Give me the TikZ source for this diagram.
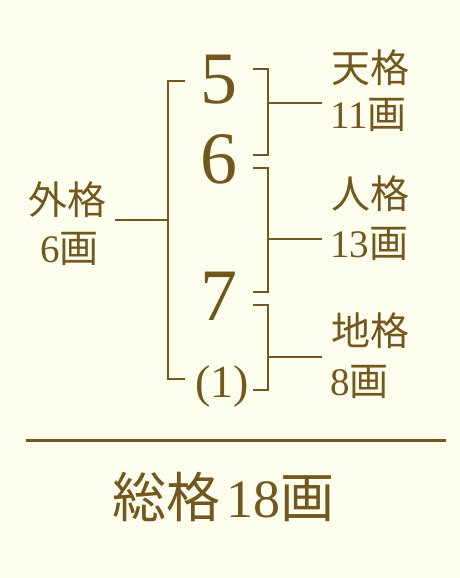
\documentclass[tikz,border=0pt]{standalone}
\usepackage{fontspec}
\setmainfont{Liberation Serif}
\newfontfamily\cjk{Noto Sans CJK JP}
\definecolor{ink}{RGB}{115,88,30}
\definecolor{bg}{RGB}{254,254,238}
\begin{document}
\begin{tikzpicture}[x=1pt,y=-1pt,
  line/.style={draw=ink,line width=2pt},
  big/.style={text=ink,inner sep=0pt,font=\fontsize{74}{74}\selectfont},
  lab/.style={text=ink,inner sep=0pt,font=\fontsize{39}{39}\selectfont},
  tot/.style={text=ink,inner sep=0pt,font=\fontsize{54}{54}\selectfont}]
\fill[bg] (0,0) rectangle (460,578);
\useasboundingbox (0,0) rectangle (460,578);
% big digits
\node[big,anchor=base] (n5) at (218.5,103) {5};
\node[big,anchor=base] (n6) at (218.5,183) {6};
\node[big,anchor=base] (n7) at (218.5,320) {7};
\node[text=ink,inner sep=0pt,font=\fontsize{46}{46}\selectfont,anchor=base] (n1) at (222,397) {(1)};
% left bracket
\coordinate (lt) at (185,81);
\coordinate (lb) at (185,379);
\coordinate (lm) at (168,220);
\coordinate (lend) at (115,220);
\draw[line] (lt) -- (168,81) -- (168,379) -- (lb);
\draw[line] (lm) -- (lend);
% right brackets
\coordinate (a1) at (253,69); \coordinate (a2) at (253,155);
\draw[line] (a1) -- (268,69) -- (268,155) -- (a2);
\coordinate (am) at (268,103); \coordinate (ae) at (322,103);
\draw[line] (am) -- (ae);
\coordinate (b1) at (253,168); \coordinate (b2) at (253,292);
\draw[line] (b1) -- (268,168) -- (268,292) -- (b2);
\coordinate (bm) at (268,239); \coordinate (be) at (322,239);
\draw[line] (bm) -- (be);
\coordinate (c1) at (253,305); \coordinate (c2) at (253,390);
\draw[line] (c1) -- (268,305) -- (268,390) -- (c2);
\coordinate (cm) at (268,357); \coordinate (ce) at (322,357);
\draw[line] (cm) -- (ce);
% labels
\node[lab,anchor=west] (ten) at (331,67.5) {\cjk 天格};
\node[lab,anchor=base west] (ten2) at (330,128) {11{\cjk 画}};
\node[lab,anchor=west] (jin) at (331,193.5) {\cjk 人格};
\node[lab,anchor=base west] (jin2) at (330,257) {13{\cjk 画}};
\node[lab,anchor=west] (chi) at (331,331) {\cjk 地格};
\node[lab,anchor=base west] (chi2) at (330,395) {8{\cjk 画}};
\node[lab] (gai) at (67,199.5) {\cjk 外格};
\node[lab,anchor=base] (gai2) at (69.5,262) {6{\cjk 画}};
% rule and total
\coordinate (r1) at (26,440); \coordinate (r2) at (446,440);
\draw[draw=ink,line width=3pt] (r1) -- (r2);
\node[tot,anchor=base] (total) at (223.5,517) {{\cjk 総格}\hspace{6pt}18{\cjk 画}};
\end{tikzpicture}
\end{document}
